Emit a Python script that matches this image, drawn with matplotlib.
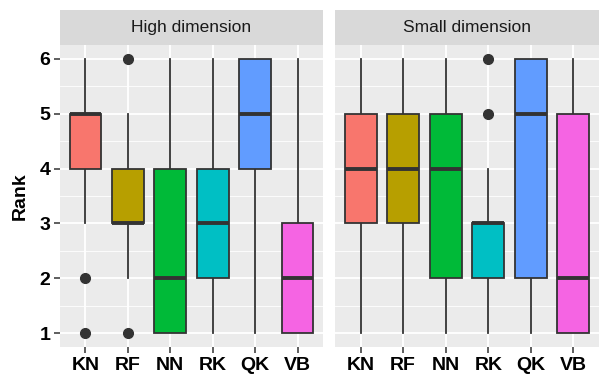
import matplotlib.pyplot as plt
from matplotlib.ticker import MultipleLocator

plt.rcParams["font.family"] = ["Liberation Sans", "DejaVu Sans"]

# method names and facet titles
methods = ["KN", "RF", "NN", "RK", "QK", "VB"]
facets = ["High dimension", "Small dimension"]
colors = ["#F8766D", "#B79F00", "#00BA38", "#00BFC4", "#619CFF", "#F564E3"]

# box statistics, one list per facet
high_q1 = [4, 3, 1, 2, 4, 1]
high_med = [5, 3, 2, 3, 5, 2]
high_q3 = [5, 4, 4, 4, 6, 3]
high_lo = [3, 2, 1, 1, 1, 1]
high_hi = [6, 5, 6, 6, 6, 6]
high_out = [[2, 1], [6, 1], [], [], [], []]

small_q1 = [3, 3, 2, 2, 2, 1]
small_med = [4, 4, 4, 3, 5, 2]
small_q3 = [5, 5, 5, 3, 6, 5]
small_lo = [1, 1, 1, 1, 1, 1]
small_hi = [6, 6, 6, 4, 6, 6]
small_out = [[], [], [], [6, 5], [], []]

panels = [
    (high_q1, high_med, high_q3, high_lo, high_hi, high_out),
    (small_q1, small_med, small_q3, small_lo, small_hi, small_out),
]

W, H = 609, 386
fig = plt.figure(figsize=(W / 100, H / 100), dpi=100)

edge = "#333333"
px = [(60, 323), (335, 599)]
top, bottom = 45, 347

for i, (q1, med, q3, lo, hi, out) in enumerate(panels):
    x0, x1 = px[i]
    ax = fig.add_axes([x0 / W, 1 - bottom / H, (x1 - x0) / W, (bottom - top) / H])
    ax.set_facecolor("#EBEBEB")
    for s in ax.spines.values():
        s.set_visible(False)

    stats = []
    for k in range(len(methods)):
        stats.append(dict(q1=q1[k], med=med[k], q3=q3[k], whislo=lo[k],
                          whishi=hi[k], fliers=out[k], label=methods[k]))
    bp = ax.bxp(stats, positions=range(1, 7), widths=0.75, patch_artist=True,
                showcaps=False,
                boxprops=dict(edgecolor=edge, linewidth=1.3),
                whiskerprops=dict(color=edge, linewidth=1.3),
                medianprops=dict(color=edge, linewidth=2.8, solid_capstyle="butt"),
                flierprops=dict(marker="o", markerfacecolor=edge, markeredgecolor=edge,
                                markersize=7))
    for patch, c in zip(bp["boxes"], colors):
        patch.set_facecolor(c)
        patch.set_zorder(3)
    for key in ("whiskers", "medians", "fliers"):
        for art in bp[key]:
            art.set_zorder(3.5 if key != "whiskers" else 2.5)

    ax.set_xlim(0.4, 6.6)
    ax.set_ylim(0.75, 6.25)
    ax.yaxis.set_major_locator(MultipleLocator(1))
    ax.yaxis.set_minor_locator(MultipleLocator(0.5))
    ax.set_xticks(range(1, 7))
    ax.set_xticklabels(methods)
    ax.grid(True, which="major", color="white", linewidth=1.3, zorder=0)
    ax.grid(True, which="minor", axis="y", color="white", linewidth=0.6, zorder=0)
    ax.set_axisbelow(True)
    ax.tick_params(axis="both", which="major", length=4, width=1.1, color=edge,
                   labelsize=14, pad=3)
    ax.tick_params(axis="y", which="minor", length=0)
    for lab in ax.get_xticklabels() + ax.get_yticklabels():
        lab.set_fontweight("bold")
        lab.set_color("black")
    if i == 0:
        ax.set_ylabel("Rank", fontsize=14, fontweight="bold", labelpad=8)
    else:
        ax.set_yticklabels([])
        ax.tick_params(axis="y", length=0)

    # facet strip
    sax = fig.add_axes([x0 / W, 1 - top / H, (x1 - x0) / W, 35 / H])
    sax.set_facecolor("#D9D9D9")
    sax.set_xticks([])
    sax.set_yticks([])
    for s in sax.spines.values():
        s.set_visible(False)
    sax.text(0.5, 0.5, facets[i], ha="center", va="center", fontsize=12.5,
             color="#1A1A1A", transform=sax.transAxes)

fig.savefig("out.png", dpi=100)
